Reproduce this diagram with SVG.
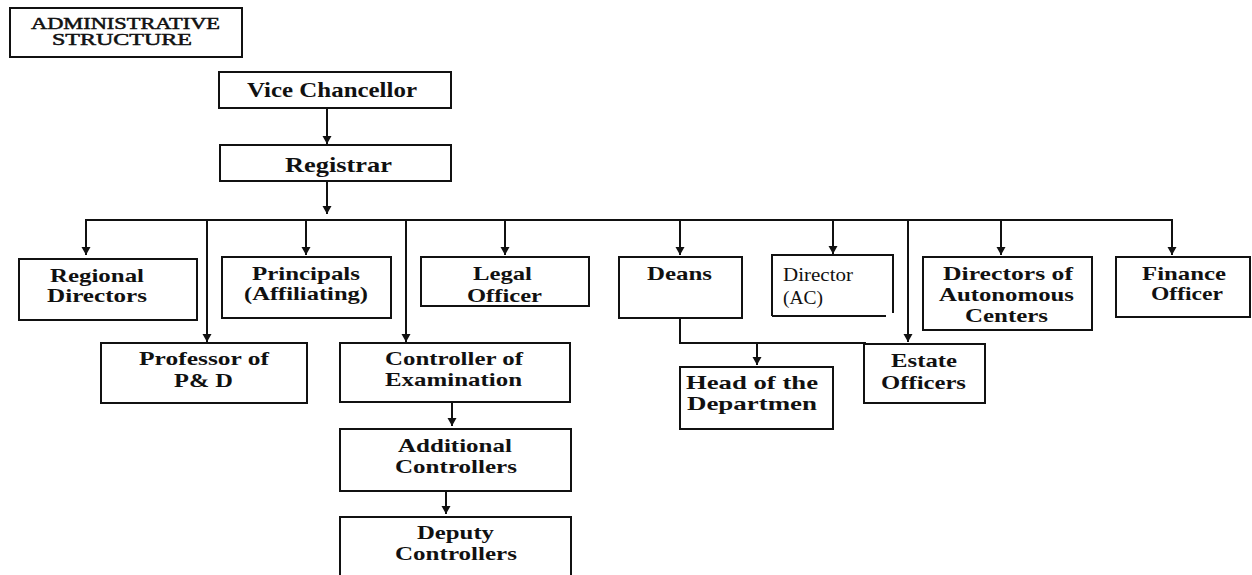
<svg xmlns="http://www.w3.org/2000/svg" width="1252" height="575" viewBox="0 0 1252 575">
  <style>
    .box { fill: #ffffff; stroke: #111111; stroke-width: 2; }
    .edge { fill: none; stroke: #111111; stroke-width: 2; }
    .t { font-family: "Liberation Serif", "Times New Roman", serif; font-weight: bold; font-size: 19.5px; fill: #111111; text-anchor: middle; }
    .big { font-size: 21px; }
    .reg { font-family: "Liberation Serif", "Times New Roman", serif; font-weight: normal; font-size: 18px; fill: #111111; }
    .title { font-family: "Liberation Serif", "Times New Roman", serif; font-weight: normal; font-size: 16px; fill: #111111; stroke: #111111; stroke-width: 0.5px; text-anchor: middle; }
  </style>
  <defs>
    <marker id="tip" markerUnits="userSpaceOnUse" markerWidth="10" markerHeight="10" refX="8" refY="5" orient="auto" viewBox="0 0 10 10">
      <path d="M0,0.5 L8,5 L0,9.5 Z" fill="#111111"/>
    </marker>
  </defs>

  <rect width="1252" height="575" fill="#ffffff"/>

  <!-- title -->
  <g id="title">
    <rect class="box" x="10" y="8" width="232" height="49"/>
    <text class="title" x="125.5" y="29" textLength="189" lengthAdjust="spacingAndGlyphs">ADMINISTRATIVE</text>
    <text class="title" x="122" y="45" textLength="140" lengthAdjust="spacingAndGlyphs">STRUCTURE</text>
  </g>

  <!-- connectors -->
  <g id="connectors">
    <line class="edge" x1="327" y1="108" x2="327" y2="144" marker-end="url(#tip)"/>
    <line class="edge" x1="327" y1="181" x2="327" y2="214" marker-end="url(#tip)"/>
    <line class="edge" x1="85" y1="220" x2="1173" y2="220"/>
    <line class="edge" x1="86" y1="220" x2="86" y2="255" marker-end="url(#tip)"/>
    <line class="edge" x1="207" y1="220" x2="207" y2="342" marker-end="url(#tip)"/>
    <line class="edge" x1="306" y1="220" x2="306" y2="255" marker-end="url(#tip)"/>
    <line class="edge" x1="406" y1="220" x2="406" y2="342" marker-end="url(#tip)"/>
    <line class="edge" x1="505" y1="220" x2="505" y2="255" marker-end="url(#tip)"/>
    <line class="edge" x1="680" y1="220" x2="680" y2="255" marker-end="url(#tip)"/>
    <line class="edge" x1="833" y1="220" x2="833" y2="254" marker-end="url(#tip)"/>
    <line class="edge" x1="908" y1="220" x2="908" y2="342" marker-end="url(#tip)"/>
    <line class="edge" x1="1001" y1="220" x2="1001" y2="255" marker-end="url(#tip)"/>
    <line class="edge" x1="1172" y1="220" x2="1172" y2="255" marker-end="url(#tip)"/>
    <path class="edge" d="M680,318 L680,343 L866,343"/>
    <line class="edge" x1="757" y1="343" x2="757" y2="365" marker-end="url(#tip)"/>
    <line class="edge" x1="452" y1="402" x2="452" y2="426" marker-end="url(#tip)"/>
    <line class="edge" x1="446" y1="491" x2="446" y2="514" marker-end="url(#tip)"/>
  </g>

  <g id="vice-chancellor">
    <rect class="box" x="219" y="72" width="232" height="36"/>
    <text class="t big" x="332" y="97" textLength="170" lengthAdjust="spacingAndGlyphs">Vice Chancellor</text>
  </g>

  <g id="registrar">
    <rect class="box" x="220" y="145" width="231" height="36"/>
    <text class="t big" x="338.5" y="172" textLength="107" lengthAdjust="spacingAndGlyphs">Registrar</text>
  </g>

  <g id="regional-directors">
    <rect class="box" x="19" y="259" width="178" height="61"/>
    <text class="t" x="97" y="282" textLength="94" lengthAdjust="spacingAndGlyphs">Regional</text>
    <text class="t" x="97" y="302" textLength="100" lengthAdjust="spacingAndGlyphs">Directors</text>
  </g>

  <g id="principals">
    <rect class="box" x="222" y="257" width="169" height="61"/>
    <text class="t" x="306" y="280" textLength="108" lengthAdjust="spacingAndGlyphs">Principals</text>
    <text class="t" x="306" y="300" textLength="124" lengthAdjust="spacingAndGlyphs">(Affiliating)</text>
  </g>

  <g id="professor-pd">
    <rect class="box" x="101" y="343" width="206" height="60"/>
    <text class="t" x="204" y="365" textLength="130" lengthAdjust="spacingAndGlyphs">Professor of</text>
    <text class="t" x="203.5" y="387" textLength="59" lengthAdjust="spacingAndGlyphs">P&amp; D</text>
  </g>

  <g id="legal-officer">
    <rect class="box" x="421" y="257" width="168" height="49"/>
    <text class="t" x="502.5" y="280" textLength="59" lengthAdjust="spacingAndGlyphs">Legal</text>
    <text class="t" x="504.5" y="302" textLength="75" lengthAdjust="spacingAndGlyphs">Officer</text>
  </g>

  <g id="controller-of-examination">
    <rect class="box" x="340" y="343" width="230" height="59"/>
    <text class="t" x="454" y="365" textLength="138" lengthAdjust="spacingAndGlyphs">Controller of</text>
    <text class="t" x="453.5" y="386" textLength="137" lengthAdjust="spacingAndGlyphs">Examination</text>
  </g>

  <g id="additional-controllers">
    <rect class="box" x="340" y="429" width="231" height="62"/>
    <text class="t" x="455" y="452" textLength="114" lengthAdjust="spacingAndGlyphs">Additional</text>
    <text class="t" x="456" y="473" textLength="122" lengthAdjust="spacingAndGlyphs">Controllers</text>
  </g>

  <g id="deputy-controllers">
    <rect class="box" x="340" y="517" width="231" height="64"/>
    <text class="t" x="455.5" y="539" textLength="77" lengthAdjust="spacingAndGlyphs">Deputy</text>
    <text class="t" x="456" y="560" textLength="122" lengthAdjust="spacingAndGlyphs">Controllers</text>
  </g>

  <g id="deans">
    <rect class="box" x="619" y="257" width="123" height="61"/>
    <text class="t" x="679.5" y="280" textLength="65" lengthAdjust="spacingAndGlyphs">Deans</text>
  </g>

  <g id="head-of-department">
    <rect class="box" x="680" y="367" width="153" height="62"/>
    <text class="t" x="752" y="389" textLength="132" lengthAdjust="spacingAndGlyphs">Head of the</text>
    <text class="t" x="752" y="410" textLength="130" lengthAdjust="spacingAndGlyphs">Departmen</text>
  </g>

  <g id="director-ac">
    <path class="edge" d="M772,316 L772,255 L893,255 L893,313 M772,316 L886,316"/>
    <text class="reg" x="783" y="281" textLength="70" lengthAdjust="spacingAndGlyphs">Director</text>
    <text class="reg" x="783" y="304" textLength="40" lengthAdjust="spacingAndGlyphs">(AC)</text>
  </g>

  <g id="estate-officers">
    <rect class="box" x="864" y="344" width="121" height="59"/>
    <text class="t" x="924" y="367" textLength="66" lengthAdjust="spacingAndGlyphs">Estate</text>
    <text class="t" x="923.5" y="389" textLength="85" lengthAdjust="spacingAndGlyphs">Officers</text>
  </g>

  <g id="directors-autonomous-centers">
    <rect class="box" x="923" y="257" width="169" height="73"/>
    <text class="t" x="1008" y="280" textLength="130" lengthAdjust="spacingAndGlyphs">Directors of</text>
    <text class="t" x="1006.5" y="301" textLength="135" lengthAdjust="spacingAndGlyphs">Autonomous</text>
    <text class="t" x="1006.5" y="322" textLength="83" lengthAdjust="spacingAndGlyphs">Centers</text>
  </g>

  <g id="finance-officer">
    <rect class="box" x="1116" y="257" width="134" height="60"/>
    <text class="t" x="1184" y="280" textLength="84" lengthAdjust="spacingAndGlyphs">Finance</text>
    <text class="t" x="1187" y="300" textLength="72" lengthAdjust="spacingAndGlyphs">Officer</text>
  </g>
</svg>
